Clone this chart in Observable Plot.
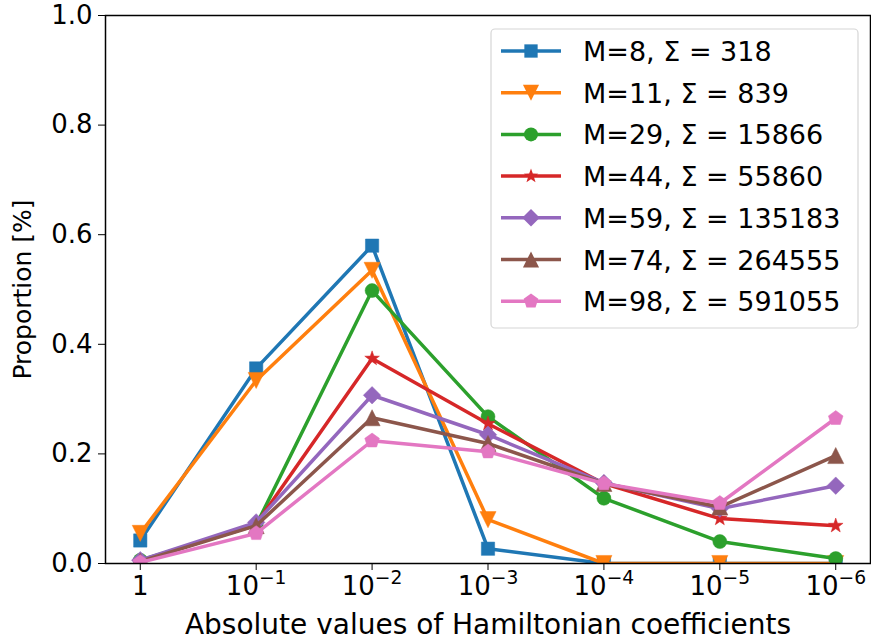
<!DOCTYPE html>
<html>
<head>
<meta charset="utf-8">
<script src="https://cdn.jsdelivr.net/npm/d3@7"></script>
<script src="https://cdn.jsdelivr.net/npm/@observablehq/plot@0.6"></script>
<style>
  html, body { margin: 0; padding: 0; background: #fff; }
  svg { font-family: "DejaVu Sans", sans-serif; }
</style>
</head>
<body>
<div id="chart"></div>
<script>
// Categories (x positions are indices 0..6)
const categories = [0, 1, 2, 3, 4, 5, 6];
const xTickLabels = ["1", "10^-1", "10^-2", "10^-3", "10^-4", "10^-5", "10^-6"];
const yTicks = [0, 0.2, 0.4, 0.6, 0.8, 1.0];

const seriesLabels = ["M=8", "M=11", "M=29", "M=44", "M=59", "M=74", "M=98"];
const seriesSums = ["318", "839", "15866", "55860", "135183", "264555", "591055"];
const seriesColors = ["#1f77b4", "#ff7f0e", "#2ca02c", "#d62728", "#9467bd", "#8c564b", "#e377c2"];
const seriesMarkers = ["square", "triangleDown", "circle", "star", "diamond", "triangleUp", "pentagon"];

const m8  = [0.042, 0.356, 0.580, 0.027, 0.000, 0.000, 0.000];
const m11 = [0.055, 0.334, 0.535, 0.080, 0.000, 0.000, 0.000];
const m29 = [0.006, 0.070, 0.498, 0.268, 0.119, 0.040, 0.009];
const m44 = [0.004, 0.072, 0.374, 0.255, 0.146, 0.082, 0.069];
const m59 = [0.006, 0.075, 0.307, 0.235, 0.147, 0.100, 0.142];
const m74 = [0.004, 0.069, 0.266, 0.219, 0.146, 0.103, 0.197];
const m98 = [0.002, 0.055, 0.224, 0.204, 0.146, 0.110, 0.265];
const seriesValues = [m8, m11, m29, m44, m59, m74, m98];

// custom marker shapes (draw(context, size) with size = r^2 * PI)
function polygon(ctx, pts) {
  ctx.moveTo(pts[0][0], pts[0][1]);
  for (let i = 1; i < pts.length; i++) ctx.lineTo(pts[i][0], pts[i][1]);
  ctx.closePath();
}
const symbols = {
  square: { draw(ctx, size) { const r = Math.sqrt(size / Math.PI); const s = r * 0.95;
    polygon(ctx, [[-s,-s],[s,-s],[s,s],[-s,s]]); } },
  circle: { draw(ctx, size) { const r = Math.sqrt(size / Math.PI) * 1.0;
    ctx.moveTo(r, 0); ctx.arc(0, 0, r, 0, 2 * Math.PI); } },
  triangleDown: { draw(ctx, size) { const r = Math.sqrt(size / Math.PI) * 1.15;
    polygon(ctx, [[-r, -r], [r, -r], [0, r]]); } },
  triangleUp: { draw(ctx, size) { const r = Math.sqrt(size / Math.PI) * 1.15;
    polygon(ctx, [[-r, r], [r, r], [0, -r]]); } },
  diamond: { draw(ctx, size) { const r = Math.sqrt(size / Math.PI) * 1.25;
    polygon(ctx, [[0, -r], [r, 0], [0, r], [-r, 0]]); } },
  star: { draw(ctx, size) { const R = Math.sqrt(size / Math.PI) * 1.1, ri = R * 0.4; const pts = [];
    for (let i = 0; i < 10; i++) { const a = -Math.PI / 2 + i * Math.PI / 5; const rr = i % 2 ? ri : R;
      pts.push([rr * Math.cos(a), rr * Math.sin(a)]); } polygon(ctx, pts); } },
  pentagon: { draw(ctx, size) { const R = Math.sqrt(size / Math.PI) * 1.1; const pts = [];
    for (let i = 0; i < 5; i++) { const a = -Math.PI / 2 + i * 2 * Math.PI / 5;
      pts.push([R * Math.cos(a), R * Math.sin(a)]); } polygon(ctx, pts); } }
};

const W = 871, H = 644;
const mL = 105, mR = 1, mT = 15, mB = 81;

const marks = [];
seriesValues.forEach((vals, k) => {
  const rows = categories.map((c, i) => ({x: c, y: vals[i]}));
  marks.push(Plot.line(rows, {x: "x", y: "y", stroke: seriesColors[k], strokeWidth: 3.5, clip: true}));
  marks.push(Plot.dot(rows, {x: "x", y: "y", fill: seriesColors[k], stroke: seriesColors[k], strokeWidth: 0.5,
    r: 7, symbol: symbols[seriesMarkers[k]], clip: true}));
});

const chart = Plot.plot({
  width: W, height: H,
  marginLeft: mL, marginRight: mR, marginTop: mT, marginBottom: mB,
  style: {fontFamily: "DejaVu Sans, sans-serif", fontSize: "26px", color: "#000", background: "#fff", overflow: "visible"},
  x: {domain: [-0.3, 6.3]},
  y: {domain: [0, 1]},
  marks: [
    ...marks,
    Plot.frame({stroke: "#000", strokeWidth: 1.5}),
    Plot.axisX({ticks: categories, tickFormat: i => xTickLabels[i], tickSize: 7, tickPadding: 6, fontSize: 26,
      label: "Absolute values of Hamiltonian coefficients", labelAnchor: "center", labelArrow: "none", labelOffset: 70}),
    Plot.axisY({ticks: yTicks, tickFormat: d3.format(".1f"), tickSize: 7, tickPadding: 6, fontSize: 26,
      label: "Proportion [%]", labelAnchor: "center", labelArrow: "none", labelOffset: 92})
  ]
});

document.getElementById("chart").appendChild(chart);
const svg = d3.select(chart);

// superscript tick labels
svg.selectAll("g[aria-label='x-axis tick label'] text").each(function() {
  const t = d3.select(this);
  const s = t.text();
  const m = s.match(/^10\^(-?\d+)$/);
  if (m) {
    t.text(null);
    t.append("tspan").text("10");
    t.append("tspan").attr("dy", "-0.6em").attr("font-size", "0.72em").text(m[1].replace("-", "\u2212"));
  }
});
svg.selectAll("g[aria-label='x-axis label'] text").attr("font-size", 28);
svg.selectAll("g[aria-label='y-axis label'] text").attr("font-size", 25);

// legend inside the plot (upper right)
const lg = svg.append("g").attr("class", "legend").attr("text-anchor", "start");
const lx = 491, ly = 29, lw = 367, lh = 299, rowH = 41.7;
lg.append("rect").attr("x", lx).attr("y", ly).attr("width", lw).attr("height", lh).attr("rx", 4)
  .attr("fill", "#fff").attr("fill-opacity", 0.8).attr("stroke", "#d6d6d6").attr("stroke-width", 1.2);
seriesLabels.forEach((lab, k) => {
  const yy = ly + 22 + k * rowH;
  lg.append("line").attr("x1", 501).attr("x2", 561).attr("y1", yy).attr("y2", yy)
    .attr("stroke", seriesColors[k]).attr("stroke-width", 3.5);
  const p = d3.path(); symbols[seriesMarkers[k]].draw(p, 49 * Math.PI);
  lg.append("path").attr("d", p.toString()).attr("transform", `translate(531,${yy})`)
    .attr("fill", seriesColors[k]);
  const tx = lg.append("text").attr("x", 583).attr("y", yy + 10).attr("font-size", 27).attr("fill", "#000")
    .attr("text-anchor", "start");
  tx.append("tspan").text(lab + ", ");
  tx.append("tspan").text("\u03A3 = " + seriesSums[k]);
});
</script>
</body>
</html>
